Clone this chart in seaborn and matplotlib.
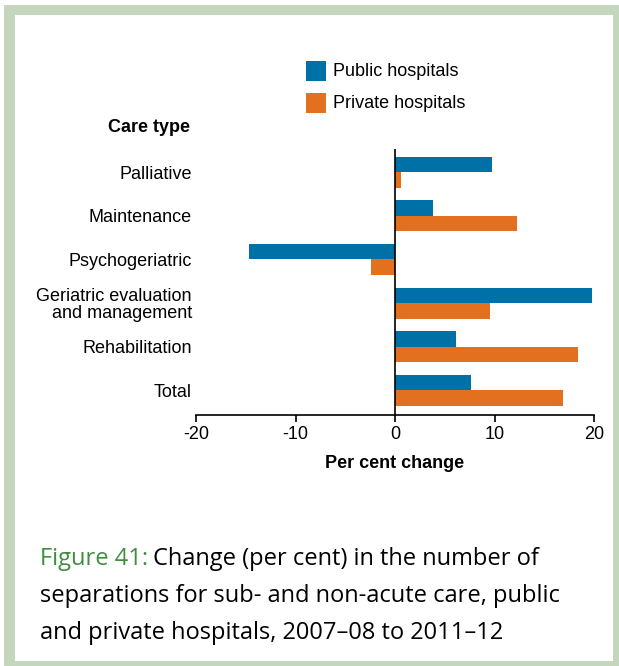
import matplotlib
matplotlib.use("Agg")
import matplotlib.pyplot as plt
from matplotlib.patches import Rectangle
import seaborn as sns
import pandas as pd

care_types = ["Palliative", "Maintenance", "Psychogeriatric",
              "Geriatric evaluation\nand management", "Rehabilitation", "Total"]
public_change = [9.7, 3.8, -14.7, 19.8, 6.1, 7.6]
private_change = [0.6, 12.3, -2.4, 9.5, 18.4, 16.9]
series_names = ["Public hospitals", "Private hospitals"]
x_ticks = [-20, -10, 0, 10, 20]

BLUE = "#0071A7"
ORANGE = "#E3701F"
FRAME = "#C4D6BC"
CAPTION_GREEN = "#3F8E3F"

df = pd.DataFrame({
    "care": care_types * 2,
    "change": public_change + private_change,
    "sector": [series_names[0]] * len(care_types) + [series_names[1]] * len(care_types),
})

sns.set_theme(style="white")
plt.rcParams["font.family"] = ["Liberation Sans", "DejaVu Sans"]

W, H = 619, 666
fig = plt.figure(figsize=(W / 100, H / 100), dpi=100)

def fx(px):
    return px / W

def fy(py):
    return 1 - py / H

# Framed panel: green border with white inner area
fig.patches.append(Rectangle((fx(4), fy(H + 10)), fx(W + 10), (H + 10 - 5) / H,
                             transform=fig.transFigure, facecolor=FRAME,
                             edgecolor="none", zorder=-3))
fig.patches.append(Rectangle((fx(15), fy(661)), fx(613 - 15), (661 - 15) / H,
                             transform=fig.transFigure, facecolor="white",
                             edgecolor="none", zorder=-2))

ax_left, ax_right, ax_top, ax_bottom = 196, 594, 149, 415
ax = fig.add_axes([fx(ax_left), fy(ax_bottom), fx(ax_right - ax_left),
                   (ax_bottom - ax_top) / H])
ax.set_zorder(1)
ax.set_facecolor("none")

sns.barplot(data=df, y="care", x="change", hue="sector", orient="h",
            order=care_types, hue_order=series_names,
            palette=[BLUE, ORANGE], width=0.71, saturation=1,
            linewidth=0, ax=ax, legend=False)

ax.set_xlim(-20, 20)
ax.set_ylim(5.565, -0.53)
ax.set_xticks(x_ticks)
ax.set_xticklabels([str(t) for t in x_ticks], fontsize=13)
ax.axvline(0, color="black", lw=1.2, zorder=5)

for side in ["top", "right", "left"]:
    ax.spines[side].set_visible(False)
ax.spines["bottom"].set_color("black")
ax.spines["bottom"].set_linewidth(1.2)
ax.tick_params(axis="x", direction="out", length=5, width=1.2, color="black",
               bottom=True, pad=3, labelcolor="black")
ax.tick_params(axis="y", length=0, pad=3, labelsize=13, labelcolor="black")
for lab in ax.get_yticklabels():
    lab.set_multialignment("right")
    lab.set_linespacing(1.0)
ax.set_xlabel("")
ax.set_ylabel("")

fig.text(fx(190), fy(128), "Care type", ha="right", va="center",
         fontsize=13, fontweight="bold", color="black")
fig.text(fx(395), fy(464), "Per cent change", ha="center", va="center",
         fontsize=13, fontweight="bold", color="black")

# Legend drawn as swatches and labels above the plot
for i, (name, col) in enumerate(zip(series_names, [BLUE, ORANGE])):
    top = 61 + i * 32
    fig.patches.append(Rectangle((fx(306), fy(top + 20)), fx(20), 20 / H,
                                 transform=fig.transFigure, facecolor=col,
                                 edgecolor="none", zorder=3))
    fig.text(fx(333), fy(top + 11), name, ha="left", va="center",
             fontsize=13, color="black")

# Caption
cap_font = ["Open Sans", "DejaVu Sans"]
cap_size = 17
fig.canvas.draw()
renderer = fig.canvas.get_renderer()
lead = fig.text(fx(40), fy(565), "Figure 41:", ha="left", va="baseline",
                fontsize=cap_size, family=cap_font, color=CAPTION_GREEN)
bb = lead.get_window_extent(renderer=renderer)
fig.text(bb.x1 / W + fx(5), fy(565), "Change (per cent) in the number of",
         ha="left", va="baseline", fontsize=cap_size, family=cap_font, color="black")
fig.text(fx(40), fy(602), "separations for sub- and non-acute care, public",
         ha="left", va="baseline", fontsize=cap_size, family=cap_font, color="black")
fig.text(fx(40), fy(639), "and private hospitals, 2007\u201308 to 2011\u201312",
         ha="left", va="baseline", fontsize=cap_size, family=cap_font, color="black")

fig.savefig("out.png", dpi=100)
